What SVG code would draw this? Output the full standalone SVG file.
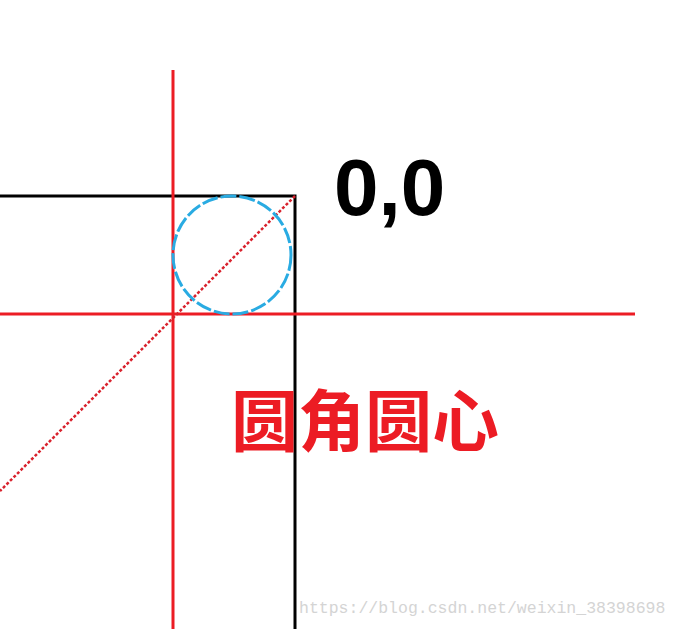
<svg xmlns="http://www.w3.org/2000/svg" width="678" height="629" viewBox="0 0 678 629">
<style>
.red{stroke:#ec1c24;stroke-width:3;fill:none}
.blk{stroke:#000;stroke-width:3;fill:none}
</style>
<rect width="678" height="629" fill="#fff"/>
<g id="rect">
<path class="blk" d="M0 196 H295 V629"/>
</g>
<g id="guides">
<line class="red" x1="173" y1="70" x2="173" y2="629"/>
<line class="red" x1="0" y1="314" x2="635" y2="314"/>
<line x1="295" y1="196" x2="0" y2="491" stroke="#d9232e" stroke-width="2.5" stroke-dasharray="3 2"/>
</g>
<g id="circle">
<circle cx="232" cy="255" r="59" fill="none" stroke="#29abe2" stroke-width="3" stroke-dasharray="16 3"/>
</g>
<g id="labels">
<text x="334" y="215" font-family="Liberation Sans, Arial, sans-serif" font-weight="bold" font-size="80" fill="#000">0,0</text>
<text x="231" y="446" font-family="Noto Sans CJK SC, sans-serif" font-weight="bold" font-size="67" fill="#ec1c24">圆角圆心</text>
<text x="299" y="613" font-family="Liberation Mono, monospace" font-size="16.5" fill="#d4d4d4">https://blog.csdn.net/weixin_38398698</text>
</g>
</svg>
